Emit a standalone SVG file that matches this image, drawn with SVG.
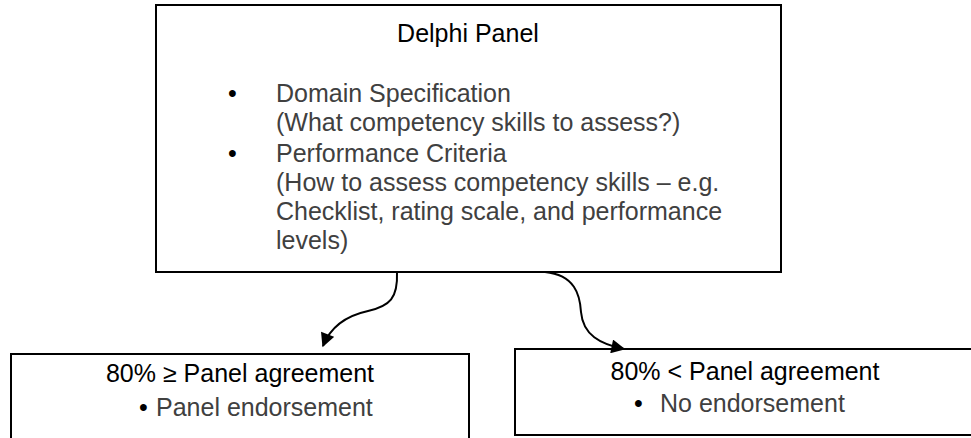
<svg xmlns="http://www.w3.org/2000/svg" width="971" height="438" viewBox="0 0 971 438">
  <style>
    .box { fill: #ffffff; stroke: #000000; stroke-width: 2; }
    .t { font-family: "Liberation Sans", Arial, sans-serif; font-size: 25px; }
    .title { fill: #000000; }
    .body { fill: #404040; }
    .dot { fill: #000000; }
    .conn { fill: none; stroke: #000000; stroke-width: 2; }
  </style>
  <defs>
    <marker id="arrow" viewBox="0 0 10 10" refX="9" refY="5" markerWidth="15" markerHeight="14" markerUnits="userSpaceOnUse" orient="auto">
      <path d="M0,0 L10,5 L0,10 z" fill="#000000"/>
    </marker>
  </defs>
  <rect width="971" height="438" fill="#ffffff"/>

  <g id="delphi-panel">
    <rect class="box" x="156" y="5" width="625" height="267"/>
    <text class="t title" x="468" y="42" text-anchor="middle">Delphi Panel</text>
    <text class="t dot" x="228" y="102">•</text>
    <text class="t body" x="276" y="102">Domain Specification</text>
    <text class="t body" x="276" y="131">(What competency skills to assess?)</text>
    <text class="t dot" x="228" y="162">•</text>
    <text class="t body" x="276" y="162">Performance Criteria</text>
    <text class="t body" x="276" y="191">(How to assess competency skills – e.g.</text>
    <text class="t body" x="276" y="220">Checklist, rating scale, and performance</text>
    <text class="t body" x="276" y="249">levels)</text>
  </g>

  <g id="endorsed">
    <rect class="box" x="11" y="354" width="458" height="100"/>
    <text class="t title" x="240" y="382" text-anchor="middle">80% ≥ Panel agreement</text>
    <text class="t dot" x="139" y="416">•</text>
    <text class="t body" x="156" y="416">Panel endorsement</text>
  </g>

  <g id="not-endorsed">
    <rect class="box" x="515" y="349" width="470" height="86"/>
    <text class="t title" x="745" y="380" text-anchor="middle">80% &lt; Panel agreement</text>
    <text class="t dot" x="634" y="412">•</text>
    <text class="t body" x="660" y="412">No endorsement</text>
  </g>

  <g id="connectors">
    <path class="conn" d="M397,272 C398,298 390,306 368,311 C345,316 330,328 323,346" marker-end="url(#arrow)"/>
    <path class="conn" d="M545,272 C575,275 580,295 581,312 C583,335 600,344 624,349" marker-end="url(#arrow)"/>
  </g>
</svg>
